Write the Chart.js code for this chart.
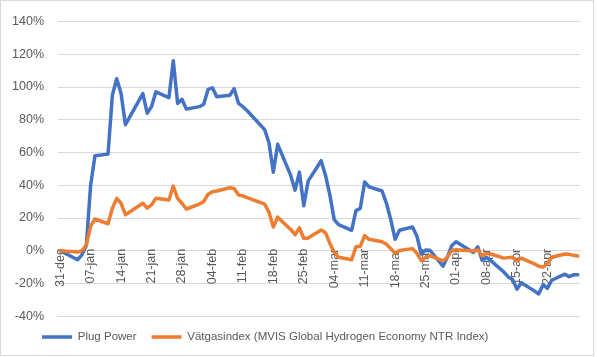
<!DOCTYPE html>
<html><head><meta charset="utf-8">
<script src="https://cdn.jsdelivr.net/npm/chart.js@4.4.0/dist/chart.umd.min.js"></script>
<style>html,body{margin:0;padding:0;background:#fff;}canvas{display:block;}</style>
</head><body>
<canvas id="c" width="597" height="357"></canvas>
<script>
const dates = [
 '2020-12-31','2021-01-04','2021-01-05','2021-01-06','2021-01-07','2021-01-08',
 '2021-01-11','2021-01-12','2021-01-13','2021-01-14','2021-01-15',
 '2021-01-19','2021-01-20','2021-01-21','2021-01-22',
 '2021-01-25','2021-01-26','2021-01-27','2021-01-28','2021-01-29',
 '2021-02-01','2021-02-02','2021-02-03','2021-02-04','2021-02-05',
 '2021-02-08','2021-02-09','2021-02-10','2021-02-11','2021-02-12',
 '2021-02-16','2021-02-17','2021-02-18','2021-02-19',
 '2021-02-22','2021-02-23','2021-02-24','2021-02-25','2021-02-26',
 '2021-03-01','2021-03-02','2021-03-03','2021-03-04','2021-03-05',
 '2021-03-08','2021-03-09','2021-03-10','2021-03-11','2021-03-12',
 '2021-03-15','2021-03-16','2021-03-17','2021-03-18','2021-03-19',
 '2021-03-22','2021-03-23','2021-03-24','2021-03-25','2021-03-26',
 '2021-03-29','2021-03-30','2021-03-31','2021-04-01',
 '2021-04-05','2021-04-06','2021-04-07','2021-04-08','2021-04-09',
 '2021-04-12','2021-04-13','2021-04-14','2021-04-15','2021-04-16',
 '2021-04-19','2021-04-20','2021-04-21','2021-04-22','2021-04-23',
 '2021-04-26','2021-04-27','2021-04-28','2021-04-29'
];
const plugPower = [
 0,-5.5,-2.5,3,40,58,
 59,95,105,96,77,
 96,84,88,97,
 93.5,116,90,92.5,86.5,
 88,89.5,98.5,99.5,94,
 95,99,90,88,85.5,
 74,66,48,65,
 46,37,48,27.5,42.5,
 55,46,34,19,16,
 12.5,24.5,26,42,39,
 36.5,29,19,7,12.5,
 14.5,9,-2,0.5,0.3,
 -9.4,-4,3,5.5,
 -1,2.4,-5.8,-4,-6,
 -13,-16,-17.5,-23.5,-19.5,
 -24.5,-26.4,-20.7,-23,-18,
 -14.3,-15.8,-14.7,-14.7
];
const hydrogenIndex = [
 0,-0.8,0,3.4,15,19.4,
 16.5,26,32,29,22,
 29,26,28,32,
 31,39.5,32,29,25.5,
 28.5,30,34.5,36,36.5,
 38.5,38,34,33.5,32.5,
 28.5,23.5,14.5,20.5,
 13,9.8,14,7.5,7.8,
 12.6,11,4.5,-1,-4,
 -5.5,2.4,2.8,9.2,7,
 5.5,4,1.3,-1.5,0.2,
 1.3,-1.5,-6,-4,-3,
 -6.2,-4,0.2,0.6,
 -0.2,0.6,-3,-1.5,-2,
 -4.5,-4.2,-4,-6.2,-4.5,
 -8,-9.5,-10,-7.9,-4,
 -2,-2.2,-2.8,-3.2
];
const seriesNames = ['Plug Power','Vätgasindex (MVIS Global Hydrogen Economy NTR Index)'];
const tickLabels = ['31-dec','07-jan','14-jan','21-jan','28-jan','04-feb','11-feb','18-feb','25-feb','04-mar','11-mar','18-mar','25-mar','01-apr','08-apr','15-apr','22-apr'];
const tickDays = [0,7,14,21,28,35,42,49,56,63,70,77,84,91,98,105,112];
const yTicks = [-40,-20,0,20,40,60,80,100,120,140];

const start = Date.UTC(2020,11,31);
function dayIndex(s){const p=s.split('-').map(Number);return Math.round((Date.UTC(p[0],p[1]-1,p[2])-start)/86400000);}
const xs = dates.map(dayIndex);
const pts = arr => arr.map((v,i)=>({x:xs[i],y:v}));

const textColor = '#595959';
const gridColor = '#d9d9d9';

const frame = {
  id:'frame',
  beforeDraw(chart){
    const ctx=chart.ctx;ctx.save();
    ctx.fillStyle='#fff';ctx.fillRect(0,0,chart.width,chart.height);
    ctx.strokeStyle=gridColor;ctx.lineWidth=1;ctx.strokeRect(0.5,0.5,593,355);
    ctx.restore();
  }
};
const legendShift = {
  id:'legendShift',
  afterLayout(chart){ if(chart.legend){chart.legend.left+=27;chart.legend.right+=27;} }
};

new Chart(document.getElementById('c'),{
  type:'line',
  data:{datasets:[
    {label:seriesNames[0],data:pts(plugPower),borderColor:'#4472C4',backgroundColor:'#4472C4',borderWidth:3.5,pointRadius:0,tension:0,borderJoinStyle:'round',borderCapStyle:'round',order:1},
    {label:seriesNames[1],data:pts(hydrogenIndex),borderColor:'#ED7D31',backgroundColor:'#ED7D31',borderWidth:3.5,pointRadius:0,tension:0,borderJoinStyle:'round',borderCapStyle:'round',order:0}
  ]},
  options:{
    responsive:false,animation:false,
    layout:{padding:{left:0,right:17,top:18.3,bottom:4.25}},
    plugins:{
      tooltip:{enabled:false},
      legend:{position:'bottom',align:'start',
        labels:{usePointStyle:true,pointStyle:'line',pointStyleWidth:30,padding:15,color:textColor,
          font:{family:'Liberation Sans',size:11.5},
          sort:(a,b)=>a.datasetIndex-b.datasetIndex}}
    },
    scales:{
      x:{type:'linear',min:-0.5,max:119.5,position:{y:0},
        afterBuildTicks:s=>{s.ticks=tickDays.map(v=>({value:v}));},
        afterFit:s=>{s.height=12.25;},
        grid:{display:false,drawTicks:false},
        border:{display:true,color:gridColor,width:1},
        ticks:{autoSkip:false,minRotation:90,maxRotation:90,padding:-2,color:textColor,
          font:{family:'Liberation Sans',size:12.5},
          callback:v=>{const i=tickDays.indexOf(v);return i<0?'':tickLabels[i];}}
      },
      y:{min:-40,max:140,
        afterBuildTicks:s=>{s.ticks=yTicks.map(v=>({value:v}));},
        afterFit:s=>{s.width=58;},
        grid:{color:gridColor,lineWidth:1,drawTicks:false},
        border:{display:false},
        ticks:{padding:14,color:textColor,font:{family:'Liberation Sans',size:12.5},callback:v=>v+'%'}
      }
    }
  },
  plugins:[frame,legendShift]
});
</script>
</body></html>
